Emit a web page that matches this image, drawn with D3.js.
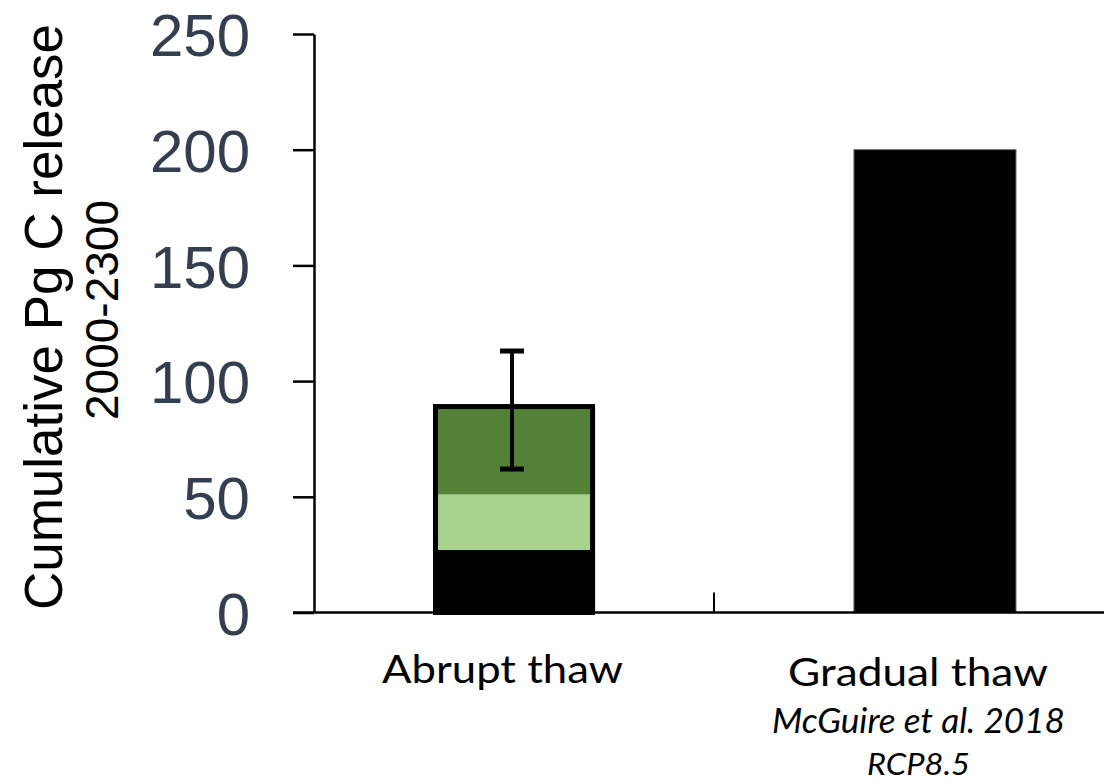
<!DOCTYPE html>
<html>
<head>
<meta charset="utf-8">
<script src="https://cdn.jsdelivr.net/npm/d3@7"></script>
<style>
  html, body { margin: 0; padding: 0; background: #fff; }
  svg { display: block; }
</style>
</head>
<body>
<svg id="chart" width="1104" height="782"></svg>
<script>
// ---- data ----
const categories = ["Abrupt thaw", "Gradual thaw"];
const segmentNames = ["base", "light", "dark"];
const abruptSegments = [27, 24, 38];          // black, light green, dark green
const gradualValue = [200];
const abruptError = [62, 113];                // low, high
const yTicks = [0, 50, 100, 150, 200, 250];
const subLabels = ["McGuire et al. 2018", "RCP8.5"];
const yTitle = "Cumulative Pg C release";
const yTitle2 = "2000-2300";

// ---- layout ----
const svg = d3.select("#chart");
const axisX = 314;
const y = d3.scaleLinear().domain([0, 250]).range([612.5, 34]);
const xBar = d3.scaleBand().domain(categories).range([433, 1016]).paddingInner(0.615).paddingOuter(0);
const xAxisBand = d3.scaleBand().domain(categories).range([axisX, 1114]);
const bw = xBar.bandwidth();
const segColors = { base: "#000000", light: "#A9D18E", dark: "#538135" };

// ---- bars: abrupt (stacked) ----
const stackData = [{ cat: categories[0], base: abruptSegments[0], light: abruptSegments[1], dark: abruptSegments[2] }];
const series = d3.stack().keys(segmentNames)(stackData);
const g = svg.append("g");
series.forEach(s => {
  s.forEach(d => {
    g.append("rect")
      .attr("x", xBar(d.data.cat))
      .attr("y", y(d[1]))
      .attr("width", bw)
      .attr("height", y(d[0]) - y(d[1]))
      .attr("fill", segColors[s.key]);
  });
});
const total = d3.sum(abruptSegments);
g.append("rect")
  .attr("x", xBar(categories[0]) + 2.5)
  .attr("y", y(total))
  .attr("width", bw - 5)
  .attr("height", y(0) - y(total))
  .attr("fill", "none")
  .attr("stroke", "#000")
  .attr("stroke-width", 5);

// ---- bar: gradual ----
g.append("rect")
  .attr("x", xBar(categories[1]))
  .attr("y", y(gradualValue[0]))
  .attr("width", bw)
  .attr("height", y(0) - y(gradualValue[0]))
  .attr("fill", "#000")
  .attr("stroke", "#666")
  .attr("stroke-width", 1);

// ---- error bar ----
const ex = xBar(categories[0]) + bw / 2 - 2;
g.append("line").attr("x1", ex).attr("x2", ex)
  .attr("y1", y(abruptError[0])).attr("y2", y(abruptError[1]))
  .attr("stroke", "#000").attr("stroke-width", 4);
abruptError.forEach(v => {
  g.append("line").attr("x1", ex - 12).attr("x2", ex + 12)
    .attr("y1", y(v)).attr("y2", y(v))
    .attr("stroke", "#000").attr("stroke-width", 5);
});

// ---- y axis ----
const yAxis = d3.axisLeft(y).tickValues(yTicks).tickSize(21).tickSizeOuter(0).tickPadding(43).tickFormat(d3.format("d"));
const ya = svg.append("g").attr("transform", `translate(${axisX},0)`).call(yAxis);
ya.select(".domain").attr("stroke", "#000").attr("stroke-width", 2.5);
ya.selectAll(".tick line").attr("stroke", "#000").attr("stroke-width", 2.5);
ya.selectAll(".tick text")
  .attr("fill", "#333F50")
  .style("font-family", "'Liberation Sans', Arial, Helvetica, sans-serif")
  .style("font-size", "60px")
  .attr("dy", "0.36em");

// ---- x axis line and divider tick ----
svg.append("line").attr("x1", 293).attr("x2", 1104)
  .attr("y1", y(0)).attr("y2", y(0))
  .attr("stroke", "#000").attr("stroke-width", 2.5);
svg.append("line")
  .attr("x1", xAxisBand(categories[1])).attr("x2", xAxisBand(categories[1]))
  .attr("y1", y(0)).attr("y2", y(0) - 20)
  .attr("stroke", "#000").attr("stroke-width", 2);

// ---- category labels ----
const labelOffsets = [-11.5, -17];
const labelWidths = [241, 260];
categories.forEach((c, i) => {
  svg.append("text")
    .attr("x", xBar(c) + bw / 2 + labelOffsets[i])
    .attr("y", i === 0 ? 683 : 686)
    .attr("text-anchor", "middle")
    .attr("textLength", labelWidths[i])
    .attr("lengthAdjust", "spacingAndGlyphs")
    .style("font-family", "Lato, 'Open Sans', sans-serif")
    .style("font-size", "39px")
    .attr("fill", "#000")
    .text(c);
});
const subX = xBar(categories[1]) + bw / 2 - 16.5;
const subY = [733, 775];
const subW = [293, 103];
const subSize = [35, 31];
subLabels.forEach((t, i) => {
  svg.append("text")
    .attr("x", subX)
    .attr("y", subY[i])
    .attr("text-anchor", "middle")
    .attr("textLength", subW[i])
    .attr("lengthAdjust", "spacingAndGlyphs")
    .style("font-family", "Lato, 'Open Sans', sans-serif")
    .style("font-style", "italic")
    .style("font-size", subSize[i] + "px")
    .attr("fill", "#000")
    .text(t);
});

// ---- y titles ----
svg.append("text")
  .attr("transform", "translate(62,317) rotate(-90)")
  .attr("text-anchor", "middle")
  .style("font-family", "'Liberation Sans', Arial, Helvetica, sans-serif")
  .style("font-size", "53px")
  .attr("fill", "#000")
  .text(yTitle);
svg.append("text")
  .attr("transform", "translate(118,310) rotate(-90)")
  .attr("text-anchor", "middle")
  .style("font-family", "'Liberation Sans', Arial, Helvetica, sans-serif")
  .style("font-size", "46px")
  .attr("fill", "#000")
  .text(yTitle2);
</script>
</body>
</html>
